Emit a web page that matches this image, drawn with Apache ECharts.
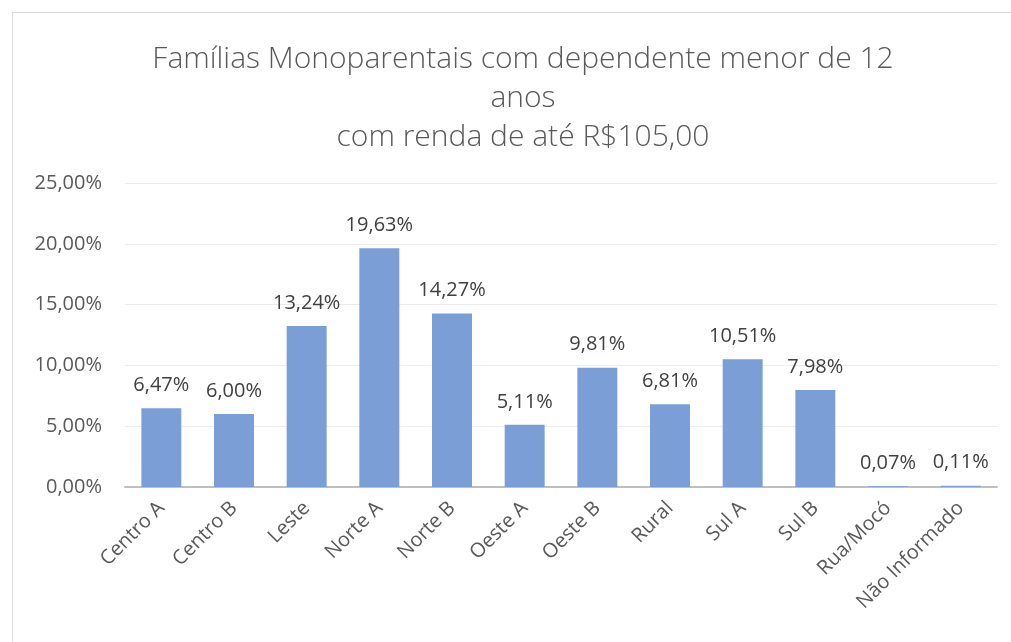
<!DOCTYPE html>
<html>
<head>
<meta charset="utf-8">
<script src="https://cdn.jsdelivr.net/npm/echarts@6/dist/echarts.min.js"></script>
<style>
html,body{margin:0;padding:0;background:#fff;}
#frame{position:absolute;left:12px;top:12px;width:1010px;height:640px;border:1px solid #d9d9d9;box-sizing:border-box;}
#chart{position:absolute;left:0;top:0;width:1011px;height:642px;}
</style>
</head>
<body>
<div id="frame"></div>
<div id="chart"></div>
<script>
const categories = ['Centro A','Centro B','Leste','Norte A','Norte B','Oeste A','Oeste B','Rural','Sul A','Sul B','Rua/Mocó','Não Informado'];
const values = [6.47, 6.00, 13.24, 19.63, 14.27, 5.11, 9.81, 6.81, 10.51, 7.98, 0.07, 0.11];
const titleLines = ['Famílias Monoparentais com dependente menor de 12','anos','com renda de até R$105,00'];
const yTicks = {min: 0, max: 25, interval: 5};

const fmt = v => v.toFixed(2).replace('.', ',') + '%';
const font = "'Open Sans', sans-serif";

const chart = echarts.init(document.getElementById('chart'));
chart.setOption({
  animation: false,
  title: {
    text: titleLines.join('\n'),
    left: 518, top: 35, textAlign: 'center',
    textStyle: {fontFamily: font, fontSize: 30, fontWeight: 300, color: '#595959', lineHeight: 39}
  },
  grid: {left: 125, right: 14, top: 183, bottom: 155, containLabel: false, outerBoundsMode: 'none'},
  xAxis: {
    type: 'category', data: categories,
    axisLine: {lineStyle: {color: '#bfbfbf', width: 2}},
    axisTick: {show: false},
    axisLabel: {rotate: 45, fontFamily: font, fontSize: 20, color: '#595959', margin: 18, interval: 0}
  },
  yAxis: {
    type: 'value', min: yTicks.min, max: yTicks.max, interval: yTicks.interval,
    axisLine: {show: false}, axisTick: {show: false},
    splitLine: {lineStyle: {color: '#ececec', width: 1}},
    axisLabel: {fontFamily: font, fontSize: 20, color: '#595959', margin: 23, formatter: v => fmt(v)}
  },
  series: [{
    type: 'bar', data: values, barWidth: '55%',
    itemStyle: {color: '#7b9ed6'},
    label: {show: true, position: 'top', distance: 13, fontFamily: font, fontSize: 20, color: '#404040',
      formatter: p => fmt(p.value)}
  }]
});
</script>
</body>
</html>
